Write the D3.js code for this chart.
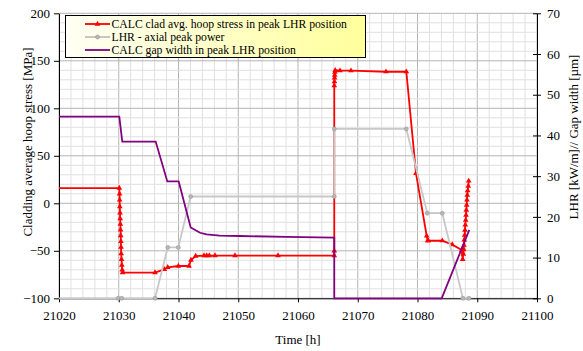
<!doctype html>
<html>
<head>
<meta charset="utf-8">
<title>Hoop stress, LHR and gap width</title>
<script src="https://d3js.org/d3.v7.min.js"></script>
<style>
  body { margin: 0; background: #fff; }
  text { font-family: "Liberation Serif", "Times New Roman", serif; fill: #000; }
</style>
</head>
<body>
<script>
// data
var stressTime = [21018, 21030.10, 21030.13, 21030.15, 21030.18, 21030.21, 21030.24, 21030.27, 21030.30,
  21030.33, 21030.36, 21030.38, 21030.41, 21030.46, 21030.52, 21030.58, 21030.64,
  21036.07, 21037.62, 21038.19, 21039.97, 21041.76, 21042.09, 21042.87, 21044.27, 21044.72, 21045.16,
  21046.11, 21049.46, 21056.65, 21066.07, 21066.07, 21066.07, 21066.10, 21066.12, 21066.15, 21066.18,
  21066.22, 21067.03, 21068.87, 21074.73, 21078.13, 21079.75, 21081.54, 21081.71, 21081.81, 21084.15,
  21085.82, 21087.40, 21087.56, 21087.67, 21087.73, 21087.78, 21087.83, 21087.90, 21087.95, 21088.00,
  21088.07, 21088.12, 21088.17, 21088.23, 21088.28, 21088.33, 21088.40, 21088.50, 21088.57];
var stressValue = [16, 16, 10, 3.5, -3.6, -10, -16, -22, -28,
  -34, -40, -46, -53, -59, -65, -70, -73,
  -73, -69.5, -67.4, -66, -66, -59.7, -55.5, -55, -55, -55,
  -55, -55, -55, -55, -50, 124, 128, 132, 135, 138,
  140, 139.6, 139.6, 138.5, 138.5, 31.6, -34.4, -39.4, -39.4, -39.4,
  -43.5, -49.2, -58.9, -53.4, -48.4, -43.9, -38.6, -33.4, -28.1, -22.8,
  -17.6, -12.3, -7.1, -1.8, 3.5, 8.7, 13.3, 18.2, 23.5];

var lhrTime = [21018, 21029.9, 21030.5, 21036.07, 21038.2, 21039.97, 21042.04, 21066.07, 21066.07,
  21078.13, 21081.64, 21084.15, 21087.6, 21088.6];
var lhrValue = [0, 0, 0, 0, 12.5, 12.5, 25, 25, 41.6, 41.6, 20.9, 20.9, 0, 0];

var gapTime = [21018, 21030.09, 21030.59, 21036.18, 21038.13, 21040.03, 21042.04, 21043.6, 21044.7,
  21046.9, 21050.3, 21058, 21066.07, 21066.07, 21084.05, 21088.67];
var gapValue = [44.6, 44.6, 38.5, 38.5, 28.7, 28.7, 17.4, 16.1, 15.7, 15.4, 15.3, 15.1, 14.9, 0, 0, 16.8];

var timeTicks = [21020, 21030, 21040, 21050, 21060, 21070, 21080, 21090, 21100];
var stressTicks = [-100, -50, 0, 50, 100, 150, 200];
var rightTicks = [0, 10, 20, 30, 40, 50, 60, 70];

var seriesNames = ["CALC clad avg. hoop stress in peak LHR position", "LHR - axial peak power",
  "CALC gap width in peak LHR position"];

var W = 583, H = 351;
var pLeft = 59, pRight = 537, pTop = 13.3, pBottom = 298.3;

var svg = d3.select("body").append("svg")
  .attr("width", W)
  .attr("height", H);

var x = d3.scaleLinear().domain([21020, 21100]).range([pLeft, pRight]);
var y = d3.scaleLinear().domain([-100, 200]).range([pBottom, pTop]);
var y2 = d3.scaleLinear().domain([0, 70]).range([pBottom, pTop]);

// grid
var minorX = d3.range(21020, 21101, 2), minorY = d3.range(-100, 201, 10);
svg.append("g").selectAll("line").data(minorX).enter().append("line")
  .attr("x1", d => x(d)).attr("x2", d => x(d)).attr("y1", pTop).attr("y2", pBottom)
  .attr("stroke", d => (d % 10 == 0) ? "#b4b4b4" : "#e0e0e0").attr("stroke-width", 1);
svg.append("g").selectAll("line").data(minorY).enter().append("line")
  .attr("x1", pLeft).attr("x2", pRight).attr("y1", d => y(d)).attr("y2", d => y(d))
  .attr("stroke", d => (d % 50 == 0) ? "#b4b4b4" : "#e0e0e0").attr("stroke-width", 1);

// axes
var gx = svg.append("g").attr("transform", "translate(0," + pBottom + ")")
  .call(d3.axisBottom(x).tickValues(timeTicks).tickFormat(d3.format("d")).tickSize(4).tickPadding(8).tickSizeOuter(0));
var gy = svg.append("g").attr("transform", "translate(" + pLeft + ",0)")
  .call(d3.axisLeft(y).tickValues(stressTicks).tickSize(5).tickPadding(4).tickSizeOuter(0));
var gy2 = svg.append("g").attr("transform", "translate(" + pRight + ",0)")
  .call(d3.axisRight(y2).tickValues(rightTicks).tickSize(4).tickPadding(6).tickSizeOuter(0));
gy2.selectAll(".tick line").attr("x1", -4);
[gx, gy, gy2].forEach(function (g) {
  g.attr("font-family", "Liberation Serif").attr("font-size", 13);
  g.selectAll("text").attr("fill", "#000")
    .style("font-family", "'Liberation Serif', serif").style("font-size", "13px");
  g.selectAll("line, path").attr("stroke", "#000");
});

// titles
svg.append("text").attr("x", (pLeft + pRight) / 2).attr("y", 344).attr("text-anchor", "middle")
  .style("font-size", "13px").text("Time [h]");
svg.append("text").attr("transform", "translate(32,142) rotate(-90)").attr("text-anchor", "middle")
  .style("font-size", "13px").text("Cladding average hoop stress [MPa]");
svg.append("text").attr("transform", "translate(578,137) rotate(-90)").attr("text-anchor", "middle")
  .style("font-size", "13px").text("LHR [kW/m]// Gap width [\u00b5m]");

// series
svg.append("clipPath").attr("id", "plot").append("rect")
  .attr("x", pLeft).attr("y", pTop - 3).attr("width", pRight - pLeft).attr("height", pBottom - pTop + 6);
var plot = svg.append("g").attr("clip-path", "url(#plot)");

var stressPts = stressTime.map((t, i) => [t, stressValue[i]]);
var lhrPts = lhrTime.map((t, i) => [t, lhrValue[i]]);
var gapPts = gapTime.map((t, i) => [t, gapValue[i]]);

plot.append("path").datum(stressPts)
  .attr("d", d3.line().x(d => x(d[0])).y(d => y(d[1])))
  .attr("fill", "none").attr("stroke", "#ff0000").attr("stroke-width", 1.8);
var tri = d3.symbol().type(d3.symbolTriangle).size(14);
plot.append("g").selectAll("path").data(stressPts).enter().append("path")
  .attr("transform", d => "translate(" + x(d[0]) + "," + y(d[1]) + ")")
  .attr("d", tri).attr("fill", "#ff0000");

plot.append("path").datum(lhrPts)
  .attr("d", d3.line().x(d => x(d[0])).y(d => y2(d[1])))
  .attr("fill", "none").attr("stroke", "#c8c8c8").attr("stroke-width", 1.8);
plot.append("g").selectAll("circle").data(lhrPts).enter().append("circle")
  .attr("cx", d => x(d[0])).attr("cy", d => y2(d[1])).attr("r", 2)
  .attr("fill", "#b8b8b8").attr("stroke", "#999").attr("stroke-width", 0.6);

plot.append("path").datum(gapPts)
  .attr("d", d3.line().x(d => x(d[0])).y(d => y2(d[1])))
  .attr("fill", "none").attr("stroke", "#800080").attr("stroke-width", 1.8);

// legend
var grad = svg.append("defs").append("linearGradient").attr("id", "lg");
grad.append("stop").attr("offset", "0%").attr("stop-color", "#fffff4");
grad.append("stop").attr("offset", "100%").attr("stop-color", "#ffff9c");
var lg = svg.append("g");
lg.append("rect").attr("x", 65.5).attr("y", 15.5).attr("width", 300).attr("height", 42)
  .attr("fill", "url(#lg)").attr("stroke", "#000").attr("stroke-width", 1);
var legColors = ["#ff0000", "#c0c0c0", "#800080"];
seriesNames.forEach(function (name, i) {
  var ly = 24 + i * 13;
  lg.append("line").attr("x1", 85).attr("x2", 110).attr("y1", ly).attr("y2", ly)
    .attr("stroke", legColors[i]).attr("stroke-width", 1.8);
  if (i == 0) lg.append("path").attr("transform", "translate(97.5," + ly + ")").attr("d", tri).attr("fill", "#ff0000");
  if (i == 1) lg.append("circle").attr("cx", 97.5).attr("cy", ly).attr("r", 2).attr("fill", "#b8b8b8").attr("stroke", "#999").attr("stroke-width", 0.6);
  lg.append("text").attr("x", 111.5).attr("y", ly + 4).style("font-size", "11.7px").text(name);
});
</script>
</body>
</html>
